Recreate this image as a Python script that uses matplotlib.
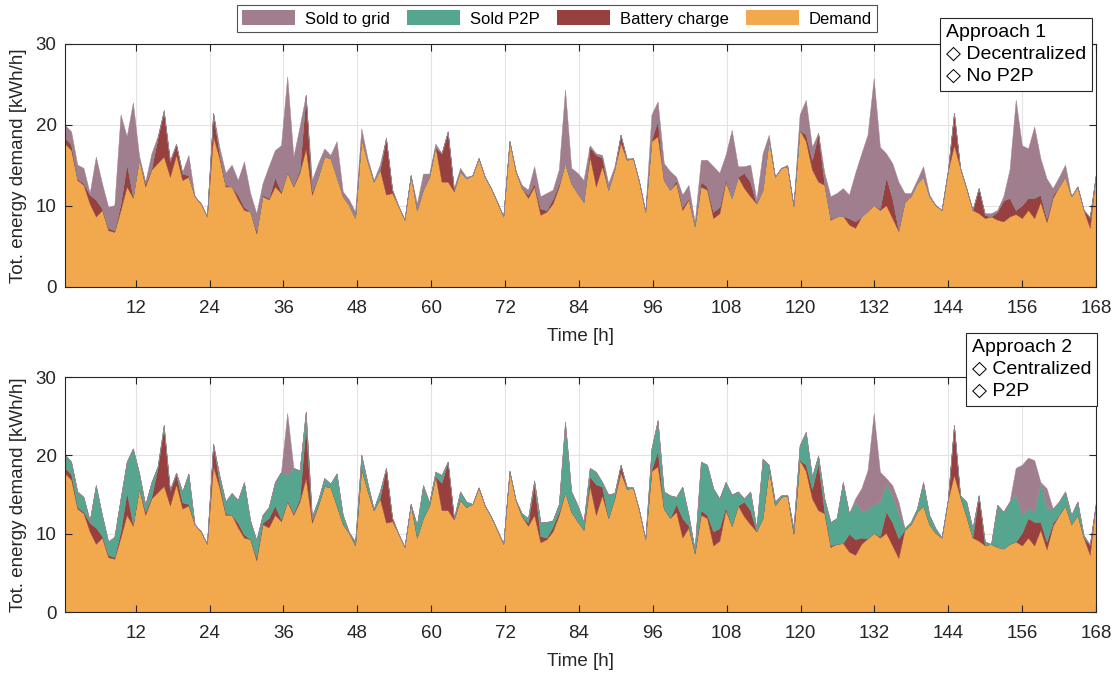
import numpy as np
import matplotlib
matplotlib.use('Agg')
import matplotlib.pyplot as plt
from matplotlib.patches import Patch

# Hourly energy balance over one week [kWh/h]
demand = [
    17.7, 16.9, 13.2, 12.6, 10.3, 8.7, 9.5, 7.0, 6.8, 9.5, 12.4, 11.0,
    15.8, 12.4, 14.5, 15.3, 16.1, 13.6, 16.3, 13.2, 13.6, 11.2, 10.3, 8.7,
    18.6, 15.9, 12.4, 12.4, 10.8, 9.5, 9.3, 6.6, 11.2, 10.8, 12.4, 11.6,
    14.1, 12.4, 14.1, 17.1, 11.4, 13.6, 16.1, 15.9, 13.6, 11.2, 10.1, 8.5,
    18.3, 15.5, 13.0, 14.5, 11.4, 11.6, 10.0, 8.3, 13.8, 9.5, 12.0, 13.6,
    17.3, 13.0, 13.0, 11.8, 14.3, 13.4, 13.8, 15.9, 13.6, 12.2, 10.5, 8.7,
    18.0, 14.3, 12.2, 11.0, 12.4, 8.9, 9.3, 10.3, 12.4, 15.3, 12.8, 11.6,
    10.5, 16.1, 12.4, 14.9, 12.0, 14.5, 17.8, 15.7, 15.9, 13.0, 9.3, 18.0,
    18.6, 13.2, 12.0, 12.8, 9.5, 10.8, 7.5, 12.4, 12.0, 8.5, 9.1, 13.0,
    11.0, 13.6, 12.2, 11.2, 10.3, 12.0, 18.2, 13.6, 14.7, 14.9, 10.0, 19.4,
    18.0, 14.5, 13.0, 12.6, 8.3, 8.7, 8.8, 7.7, 7.3, 8.7, 9.4, 10.1,
    9.5, 10.1, 8.5, 6.9, 10.5, 11.2, 12.8, 13.6, 11.2, 10.1, 9.5, 14.3,
    17.5, 14.7, 12.2, 9.5, 9.1, 8.5, 8.7, 8.3, 8.1, 8.7, 9.0, 8.5,
    9.5, 8.5, 10.5, 8.0, 11.0, 12.4, 13.6, 11.2, 12.4, 9.5, 7.3, 14.0,
]

# Approach 1: decentralized, no P2P
batt_a1 = [
    0.7, 0.7, 0.2, 0.2, 1.1, 2.1, 0.2, 0.3, 0.2, 0.8, 2.9, 0.2,
    0.0, 0.4, 0.2, 3.1, 5.6, 1.9, 1.3, 0.8, 0.2, 0.0, 0.0, 0.0,
    2.9, 0.6, 0.2, 0.0, 0.6, 0.4, 0.0, 0.4, 0.2, 0.2, 1.2, 0.2,
    0.2, 0.2, 0.4, 6.6, 0.4, 0.0, 0.0, 0.0, 0.0, 0.0, 0.0, 0.0,
    0.0, 0.0, 0.0, 0.0, 7.0, 0.4, 0.0, 0.0, 0.0, 0.0, 0.0, 0.0,
    0.0, 3.5, 6.2, 0.2, 0.0, 0.0, 0.0, 0.0, 0.0, 0.0, 0.0, 0.0,
    0.0, 0.0, 0.0, 0.4, 0.4, 0.8, 0.2, 0.6, 0.4, 0.0, 0.0, 0.0,
    0.0, 1.2, 3.9, 1.1, 0.0, 0.0, 1.0, 0.0, 0.0, 0.0, 0.0, 0.2,
    2.0, 0.0, 0.0, 0.4, 0.4, 0.2, 0.0, 0.6, 0.4, 0.8, 0.8, 0.4,
    0.0, 0.0, 1.9, 1.8, 0.0, 0.0, 0.0, 0.0, 0.0, 0.0, 0.0, 0.0,
    0.8, 1.2, 6.0, 0.2, 0.2, 0.0, 0.0, 0.8, 0.8, 0.0, 0.0, 0.0,
    0.2, 3.5, 2.5, 0.2, 0.0, 0.0, 0.0, 0.0, 0.0, 0.0, 0.0, 0.0,
    4.0, 0.0, 0.0, 0.0, 3.1, 0.4, 0.0, 1.0, 2.6, 2.3, 0.5, 1.6,
    1.5, 2.5, 0.9, 0.5, 0.4, 0.0, 0.0, 0.0, 0.0, 0.0, 1.3, 0.0,
]
grid_a1 = [
    1.6, 1.6, 1.7, 1.9, 0.2, 5.3, 3.1, 2.6, 3.1, 11.0, 3.3, 11.6,
    0.4, 0.2, 1.8, 0.2, 0.2, 0.2, 0.1, 0.2, 2.5, 0.0, 0.0, 0.0,
    0.0, 0.8, 1.5, 2.7, 1.8, 5.6, 2.3, 2.1, 1.4, 3.9, 3.3, 5.7,
    11.7, 3.5, 5.3, 0.0, 1.4, 1.7, 1.0, 0.4, 4.4, 0.6, 0.7, 0.8,
    1.3, 0.4, 0.2, 0.6, 0.0, 0.0, 0.0, 0.0, 0.0, 0.8, 2.0, 0.4,
    0.4, 0.0, 0.0, 0.2, 0.4, 0.2, 0.0, 0.0, 0.0, 0.0, 0.0, 0.0,
    0.0, 0.0, 0.4, 0.6, 2.1, 1.5, 2.1, 1.1, 1.7, 9.1, 1.9, 2.5,
    2.7, 0.2, 0.2, 0.3, 0.8, 0.4, 0.0, 0.2, 0.0, 0.0, 0.0, 3.1,
    2.3, 2.1, 2.3, 0.4, 1.5, 1.6, 0.5, 2.7, 3.3, 5.6, 4.2, 2.9,
    8.4, 1.3, 0.8, 2.1, 0.5, 4.5, 0.6, 0.0, 0.0, 0.2, 0.0, 1.9,
    4.3, 1.6, 0.0, 1.3, 2.7, 2.9, 3.4, 2.9, 6.0, 7.8, 9.4, 15.7,
    7.6, 2.9, 4.3, 5.9, 1.1, 0.4, 0.4, 1.3, 0.2, 0.0, 0.0, 0.0,
    0.0, 0.0, 0.0, 0.0, 0.0, 0.2, 0.4, 0.2, 0.5, 3.5, 13.6, 7.4,
    6.1, 8.8, 4.5, 4.9, 0.8, 1.2, 1.5, 0.0, 0.0, 0.0, 0.0, 0.0,
]

# Approach 2: centralized, P2P
batt_a2 = [
    0.7, 0.7, 0.2, 0.2, 1.1, 2.1, 0.2, 0.3, 0.2, 0.8, 2.9, 0.2,
    0.0, 0.4, 0.2, 3.1, 7.4, 1.9, 1.3, 0.8, 0.2, 0.0, 0.0, 0.0,
    2.9, 0.6, 0.2, 0.0, 0.6, 0.4, 0.0, 0.4, 0.2, 1.2, 1.2, 0.2,
    0.2, 0.2, 0.4, 6.6, 0.4, 0.0, 0.0, 0.0, 0.0, 0.0, 0.0, 0.0,
    0.0, 0.0, 0.0, 0.0, 7.0, 0.4, 0.0, 0.0, 0.0, 0.0, 0.0, 0.0,
    0.0, 3.5, 6.2, 0.2, 0.0, 0.0, 0.0, 0.0, 0.0, 0.0, 0.0, 0.0,
    0.0, 0.0, 0.0, 0.4, 4.0, 0.8, 0.2, 0.6, 0.4, 0.0, 0.0, 0.0,
    0.0, 1.2, 3.9, 1.1, 0.0, 0.0, 1.0, 0.0, 0.0, 0.0, 0.0, 0.2,
    2.0, 0.0, 0.0, 1.0, 2.5, 0.2, 0.0, 0.6, 0.4, 1.8, 1.6, 0.4,
    0.0, 0.0, 1.9, 1.8, 0.0, 0.0, 0.0, 0.0, 0.0, 0.0, 0.0, 0.0,
    0.8, 1.2, 6.0, 0.2, 0.2, 0.0, 0.0, 2.3, 2.0, 0.8, 0.0, 0.0,
    0.2, 2.7, 3.0, 2.5, 0.0, 0.0, 0.0, 0.0, 0.0, 0.0, 0.0, 0.0,
    6.4, 0.0, 0.0, 0.0, 5.8, 0.0, 0.0, 0.0, 0.0, 0.0, 0.0, 1.6,
    2.5, 3.0, 1.0, 1.0, 0.4, 0.0, 0.0, 0.0, 0.0, 0.0, 1.3, 0.0,
]
p2p_a2 = [
    1.7, 1.6, 2.0, 1.9, 0.3, 5.4, 2.7, 1.7, 2.6, 4.2, 3.9, 9.7,
    2.0, 0.9, 1.9, 0.2, 0.4, 0.1, 0.2, 1.4, 3.9, 0.0, 0.0, 0.0,
    0.0, 1.0, 1.5, 2.8, 2.9, 6.7, 2.4, 2.2, 1.0, 1.4, 3.0, 6.1,
    3.2, 5.8, 3.6, 1.9, 0.4, 0.7, 1.0, 0.5, 4.1, 1.2, 0.1, 0.5,
    1.8, 1.0, 0.2, 0.9, 0.0, 0.0, 0.0, 0.0, 0.0, 1.6, 4.2, 0.4,
    0.6, 1.0, 0.0, 0.0, 1.1, 0.7, 0.0, 0.0, 0.0, 0.0, 0.0, 0.0,
    0.0, 0.0, 0.4, 0.6, 0.4, 1.8, 2.0, 0.8, 1.0, 9.0, 2.6, 2.1,
    1.0, 1.1, 1.6, 0.6, 3.0, 0.7, 0.0, 0.3, 0.0, 0.0, 0.0, 2.7,
    3.9, 2.2, 2.9, 0.9, 4.0, 1.4, 0.5, 6.2, 6.4, 5.5, 3.8, 3.2,
    4.0, 1.8, 0.4, 2.4, 0.4, 7.6, 0.6, 0.5, 0.2, 0.0, 0.7, 1.9,
    4.2, 1.6, 1.0, 1.7, 3.0, 3.3, 7.8, 2.6, 4.8, 3.3, 3.8, 3.6,
    4.4, 3.5, 3.4, 3.2, 0.2, 0.3, 0.4, 3.0, 1.2, 0.6, 0.0, 0.0,
    0.0, 0.2, 1.9, 1.2, 0.0, 0.5, 0.0, 5.4, 4.7, 5.4, 6.0, 2.3,
    1.3, 1.3, 5.1, 4.3, 1.8, 1.7, 1.8, 1.2, 1.7, 0.3, 0.0, 0.0,
]
grid_a2 = [
    0.0, 0.0, 0.0, 0.0, 0.0, 0.0, 0.0, 0.0, 0.0, 0.0, 0.0, 0.0,
    0.0, 0.0, 0.0, 0.0, 0.0, 0.0, 0.0, 0.0, 0.0, 0.0, 0.0, 0.0,
    0.0, 0.0, 0.0, 0.0, 0.0, 0.0, 0.0, 0.0, 0.0, 0.0, 0.0, 0.0,
    7.9, 0.0, 0.0, 0.0, 0.0, 0.0, 0.0, 0.0, 0.0, 0.0, 0.0, 0.0,
    0.0, 0.0, 0.0, 0.0, 0.0, 0.0, 0.0, 0.0, 0.0, 0.0, 0.0, 0.0,
    0.0, 0.0, 0.0, 0.0, 0.0, 0.0, 0.0, 0.0, 0.0, 0.0, 0.0, 0.0,
    0.0, 0.0, 0.0, 0.0, 0.0, 0.0, 0.0, 0.0, 0.0, 0.0, 0.0, 0.0,
    0.0, 0.0, 0.0, 0.0, 0.0, 0.0, 0.0, 0.0, 0.0, 0.0, 0.0, 0.0,
    0.0, 0.0, 0.0, 0.0, 0.0, 0.0, 0.0, 0.0, 0.0, 0.0, 0.0, 0.0,
    0.0, 0.0, 0.0, 0.0, 0.0, 0.0, 0.0, 0.0, 0.0, 0.0, 0.0, 0.0,
    0.0, 0.0, 0.0, 0.0, 0.0, 0.0, 0.0, 0.0, 0.4, 3.0, 4.9, 11.7,
    3.8, 0.8, 1.3, 1.5, 0.0, 0.0, 0.0, 0.0, 0.0, 0.0, 0.0, 0.0,
    0.0, 0.0, 0.0, 0.0, 0.0, 0.0, 0.0, 0.0, 0.0, 0.0, 3.4, 6.4,
    6.4, 6.6, 0.0, 2.5, 0.0, 0.0, 0.0, 0.0, 0.0, 0.0, 0.0, 0.0,
]

series_names = ['Sold to grid', 'Sold P2P', 'Battery charge', 'Demand']
series_colors = ['#a17e8d', '#56a58e', '#983f3f', '#f2a94e']
approach_notes = ['Approach 1\n\u25C7 Decentralized\n\u25C7 No P2P',
                  'Approach 2\n\u25C7 Centralized\n\u25C7 P2P']

plt.rcParams['font.family'] = ['Liberation Sans', 'DejaVu Sans']
plt.rcParams['font.size'] = 13.5

AX_COLOR = '#262626'

fig = plt.figure(figsize=(11.14, 6.73), dpi=100)
ax1 = fig.add_axes([0.0583, 0.5736, 0.9255, 0.3611])
ax2 = fig.add_axes([0.0583, 0.0906, 0.9255, 0.3492])

t = np.linspace(0.5, 168, len(demand))
zeros = np.zeros(len(demand))
# stacked from the bottom: demand, battery, P2P, grid
layer_colors = series_colors[::-1]

ax1.stackplot(t, demand, batt_a1, zeros, grid_a1, colors=layer_colors,
              edgecolor='face', linewidth=0.3, zorder=1)
ax2.stackplot(t, demand, batt_a2, p2p_a2, grid_a2, colors=layer_colors,
              edgecolor='face', linewidth=0.3, zorder=1)


def style_axes(ax):
    ax.set_xlim(0.5, 168)
    ax.set_ylim(0, 30)
    xt = list(range(12, 169, 12))
    yt = [0, 10, 20, 30]
    ax.set_xticks(xt)
    ax.set_yticks(yt)
    # grid lines behind the areas, tick marks on top of them
    for x in xt:
        ax.axvline(x, color='#e3e3e3', lw=0.8, zorder=0)
    for y in yt:
        ax.axhline(y, color='#e3e3e3', lw=0.8, zorder=0)
    ax.tick_params(direction='in', top=True, right=True, length=5,
                   width=0.8, color=AX_COLOR, labelcolor=AX_COLOR,
                   labelsize=13.5)
    ax.tick_params(axis='x', pad=9.5)
    ax.tick_params(axis='y', pad=6)
    for s in ax.spines.values():
        s.set_color(AX_COLOR)
        s.set_linewidth(0.8)
        s.set_zorder(3)
    ax.set_xlabel('Time [h]', color=AX_COLOR, labelpad=7.5)
    ax.set_ylabel('Tot. energy demand [kWh/h]', color=AX_COLOR, labelpad=6)


style_axes(ax1)
style_axes(ax2)

handles = [Patch(facecolor=c, edgecolor='none') for c in series_colors]
leg = fig.legend(handles, series_names, loc='center', bbox_to_anchor=(0.5, 0.9725),
                 ncol=4, fontsize=12, frameon=True, fancybox=False,
                 edgecolor=AX_COLOR, handlelength=3.2, handleheight=1.0,
                 columnspacing=1.0, handletextpad=0.6, borderpad=0.3,
                 borderaxespad=0)
leg.get_frame().set_linewidth(0.8)

box_style = dict(boxstyle='square,pad=0.3', facecolor='white', edgecolor=AX_COLOR, lw=0.8)
fig.text(0.849, 0.9643, approach_notes[0], ha='left', va='top', fontsize=14,
         linespacing=1.38, color='black', bbox=box_style)
fig.text(0.8725, 0.4963, approach_notes[1], ha='left', va='top', fontsize=14,
         linespacing=1.38, color='black', bbox=box_style)

fig.savefig('out.png', dpi=100)
